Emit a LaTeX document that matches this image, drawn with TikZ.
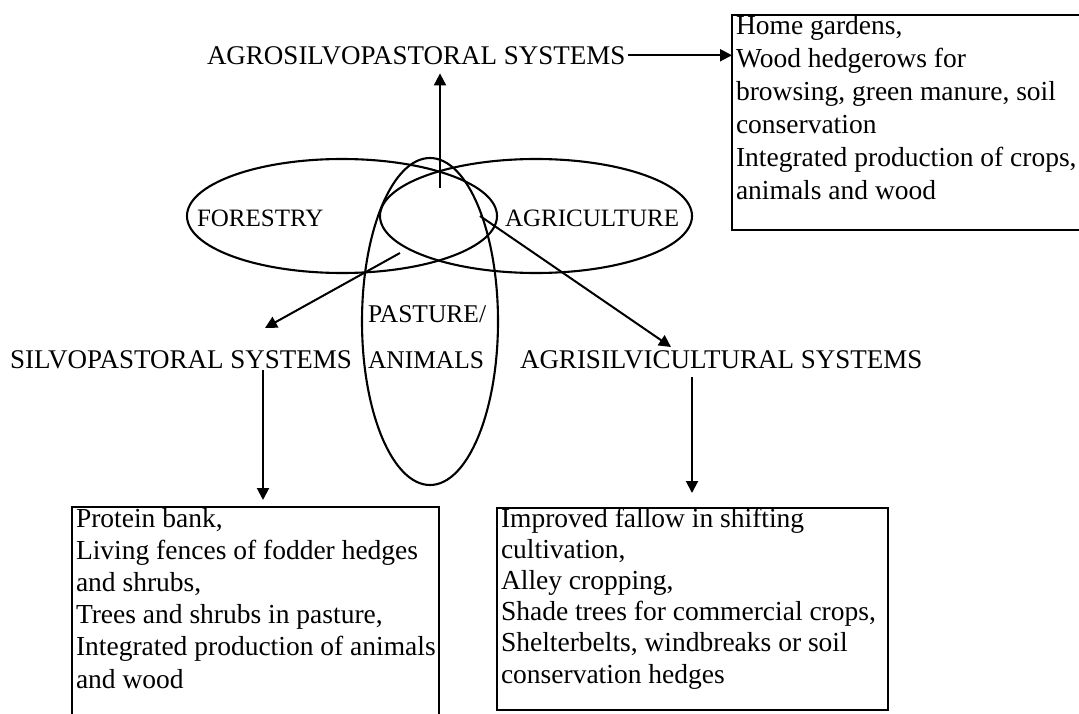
\documentclass[tikz,border=0pt]{standalone}
\usepackage{fontspec}
\setmainfont{Liberation Serif}
\usetikzlibrary{shapes.geometric,arrows.meta}
\begin{document}
\begin{tikzpicture}[x=1pt,y=-1pt,
  lw/.style={line width=2pt},
  arr/.style={lw,-{Triangle[length=12pt,width=12pt]}},
  ell/.style={draw,line width=2.1pt,ellipse,inner sep=0pt,outer sep=0pt},
  frame/.style={draw,lw,rectangle,inner sep=0pt,outer sep=0pt,anchor=north west},
  lab/.style={inner sep=0pt,outer sep=0pt,anchor=base west,font=\fontsize{27}{32}\selectfont},
  elab/.style={inner sep=0pt,outer sep=0pt,anchor=base west,font=\fontsize{25}{30}\selectfont},
  plab/.style={inner sep=0pt,outer sep=0pt,anchor=base west,font=\fontsize{25.5}{30}\selectfont},
  boxtext/.style={inner sep=0pt,outer sep=0pt,anchor=base west}]
\useasboundingbox (0,0) rectangle (1079,714);

% ellipses
\node[ell,minimum width=310pt,minimum height=114pt] (forestry) at (342,216) {};
\node[ell,minimum width=312pt,minimum height=114pt] (agriculture) at (536,216) {};
\node[ell,minimum width=136pt,minimum height=327pt] (pasture) at (430,321.5) {};

% ellipse labels
\node[elab] (forlab) at (197,227) {FORESTRY};
\node[elab] (agrlab) at (505,227) {AGRICULTURE};
\node[plab] (paslab) at (368,322) {PASTURE/};
\node[plab] (anilab) at (368,368) {ANIMALS};

% system labels
\node[lab] (agro) at (207,65) {AGROSILVOPASTORAL SYSTEMS};
\node[lab] (silvo) at (10,368) {SILVOPASTORAL SYSTEMS};
\node[lab] (agri) at (520,368) {AGRISILVICULTURAL SYSTEMS};

% boxes
\node[frame,minimum width=363pt,minimum height=215pt] (topbox) at (732,15) {};
\node[boxtext] (toptext) at (736,35) {\parbox[t]{400pt}{\fontsize{27.5}{33}\selectfont\raggedright
Home gardens,\\
Wood hedgerows for\\
browsing, green manure, soil\\
conservation\\
Integrated production of crops,\\
animals and wood}};

\node[frame,minimum width=367pt,minimum height=230pt] (lbox) at (72,507) {};
\node[boxtext] (ltext) at (76,527) {\parbox[t]{400pt}{\fontsize{27.5}{32.2}\selectfont\raggedright
Protein bank,\\
Living fences of fodder hedges\\
and shrubs,\\
Trees and shrubs in pasture,\\
Integrated production of animals\\
and wood}};

\node[frame,minimum width=391pt,minimum height=202pt] (rbox) at (497,508) {};
\node[boxtext] (rtext) at (501,527) {\parbox[t]{400pt}{\fontsize{27.5}{31.2}\selectfont\raggedright
Improved fallow in shifting\\
cultivation,\\
Alley cropping,\\
Shade trees for commercial crops,\\
Shelterbelts, windbreaks or soil\\
conservation hedges}};

% connector end points
\coordinate (hubN) at (440,188);
\coordinate (hubSW) at (400,253);
\coordinate (tipSW) at (265,328);
\coordinate (hubSE) at (480,216);
\coordinate (tipSE) at (671,347);
\coordinate (silvoDrop) at (263,370);
\coordinate (agriDrop) at (692,377);

% connectors
\draw[arr,shorten >=8pt] (hubN) -- (hubN |- agro.south);
\draw[arr,shorten <=3pt] ([yshift=1pt]agro.east) -- ([yshift=1pt]agro.east -| topbox.west);
\draw[arr] (hubSW) -- (tipSW);
\draw[arr] (hubSE) -- (tipSE);
\draw[arr,shorten >=7pt] (silvoDrop) -- (silvoDrop |- lbox.north);
\draw[arr,shorten >=15pt] (agriDrop) -- (agriDrop |- rbox.north);
\end{tikzpicture}
\end{document}
